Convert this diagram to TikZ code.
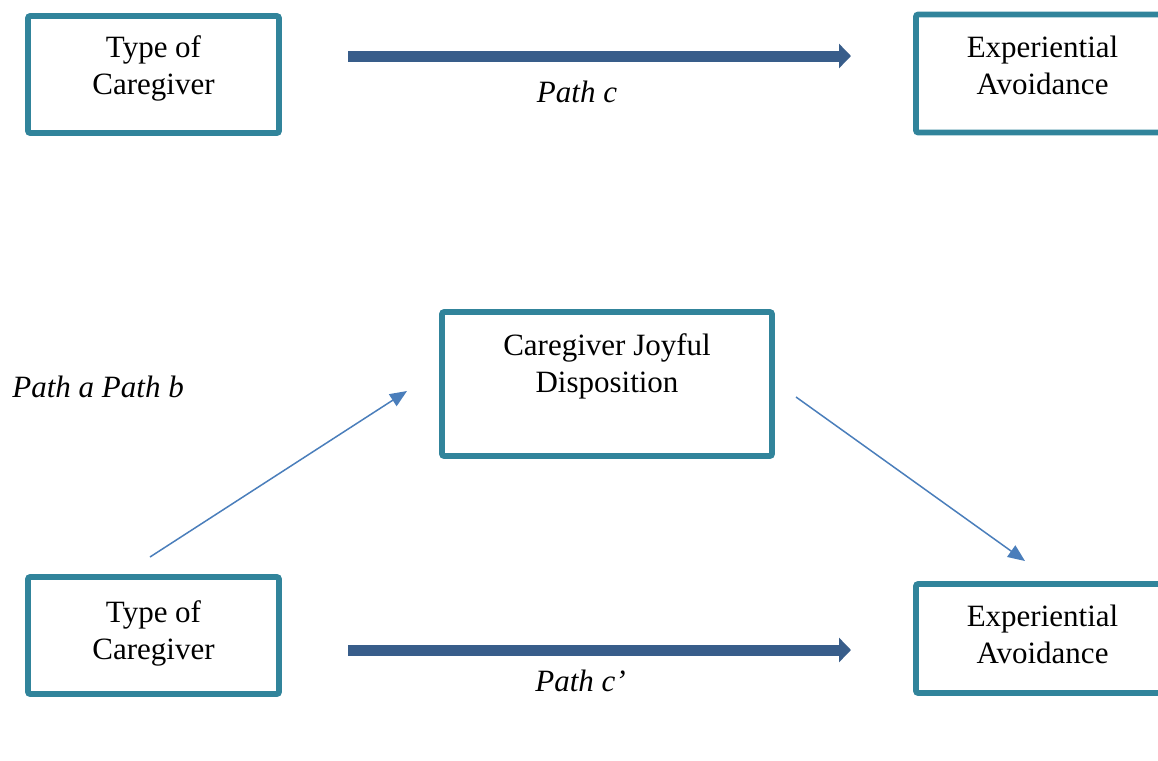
\documentclass[tikz,border=0pt]{standalone}
\usepackage{fontspec}
\setmainfont{Liberation Serif}
\usetikzlibrary{arrows.meta}
\definecolor{boxteal}{HTML}{31849B}
\definecolor{pathdark}{HTML}{385D8A}
\definecolor{pathlight}{HTML}{4A7EBB}
\tikzset{
	varbox/.style={draw=boxteal, line width=2.8pt, rounded corners=1pt, align=center, font=\fontsize{15.5}{18.5}\selectfont},
	bigpath/.style={draw=pathdark, line width=5.5pt, -{Triangle[length=6pt,width=12pt]}},
	smallpath/.style={draw=pathlight, line width=0.75pt, -{Triangle[length=8.5pt,width=7pt]}},
	pathlabel/.style={font=\fontsize{15.5}{18.5}\selectfont\itshape, inner sep=0pt}
}

\begin{document}
\begin{tikzpicture}[x=0.5pt, y=-0.5pt]
		%%%%% START %%%%%
		\useasboundingbox (0, 0) rectangle (1158, 761);
		
		% total effect
		\node[varbox, minimum width=125.5pt, minimum height=58.5pt, text depth=9.4pt] (type top) at (153.5, 74.5) {Type of\\Caregiver};
		\node[varbox, minimum width=126.5pt, minimum height=59pt, text depth=8.5pt] (avoid top) at (1042.5, 73.5) {Experiential\\Avoidance};
		\coordinate (c start) at (348, 56);
		\coordinate (c end) at (851, 56);
		\draw[bigpath] (c start) -- (c end);
		\node[pathlabel, anchor=base] (label c) at (577, 102) {Path c};
		
		% mediated effect
		\node[varbox, minimum width=165pt, minimum height=72pt, text depth=20.9pt] (joyful) at (607, 384) {Caregiver Joyful\\Disposition};
		\node[varbox, minimum width=125.5pt, minimum height=58.5pt, text depth=5.4pt] (type bottom) at (153.5, 635.5) {Type of\\Caregiver};
		\node[varbox, minimum width=126.5pt, minimum height=54.5pt, text depth=3.8pt] (avoid bottom) at (1042.5, 638.5) {Experiential\\Avoidance};
		
		\coordinate (a start) at (150, 557);
		\coordinate (a end) at (407, 391);
		\draw[smallpath] (a start) -- (a end);
		\coordinate (b start) at (796, 397);
		\coordinate (b end) at (1025, 561);
		\draw[smallpath] (b start) -- (b end);
		\node[pathlabel, anchor=base west] (label ab) at (12, 397) {Path a Path b};
		
		\coordinate (cc start) at (348, 650);
		\coordinate (cc end) at (851, 650);
		\draw[bigpath] (cc start) -- (cc end);
		\node[pathlabel, anchor=base] (label cc) at (580.5, 691) {Path c’};
		%%%%% END %%%%%
\end{tikzpicture}
\end{document}
